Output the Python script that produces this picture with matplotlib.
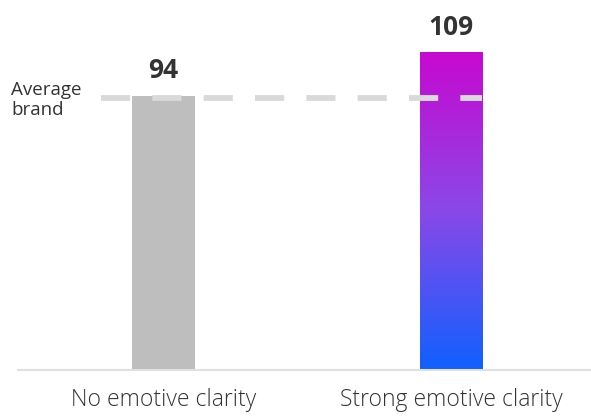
import numpy as np
import matplotlib
matplotlib.use("Agg")
import matplotlib.pyplot as plt
from matplotlib.colors import LinearSegmentedColormap

plt.rcParams['font.family'] = ['Open Sans', 'DejaVu Sans']

categories = ['No emotive clarity', 'Strong emotive clarity']
values = [94, 109]
avg_value = 93.3
avg_label = 'Average\nbrand'

# gray bar, then gradient (bottom -> top) for the second bar
gray = '#bebebe'
grad_colors = ['#1060ff', '#8a48e8', '#c808d0']

fig = plt.figure(figsize=(5.91, 4.17), dpi=100)
ax = fig.add_axes([18 / 591, 47 / 417, 573 / 591, 370 / 417])

x = np.arange(len(categories))
w = 0.219

ax.bar(x[0], values[0], width=w, color=gray, zorder=2)

# gradient bar via imshow clipped to the bar rectangle
cmap = LinearSegmentedColormap.from_list('grad', grad_colors)
bar = ax.bar(x[1], values[1], width=w, color='none', zorder=2)[0]
grad = np.linspace(0, 1, 256).reshape(-1, 1)
im = ax.imshow(grad, cmap=cmap, aspect='auto', origin='lower',
               extent=[x[1] - w / 2, x[1] + w / 2, 0, values[1]], zorder=2)
im.set_clip_path(bar)
ax.set_xlim(-0.506, 1.487)
ax.set_ylim(0, 126.8)

# average line
ax.plot([-0.217, x[1] + w / 2], [avg_value, avg_value], color='#d9d9d9',
        lw=4.2, dashes=(5, 3.8), solid_capstyle='butt', zorder=3)
fig.text(11 / 591, 1 - 100 / 417, avg_label, ha='left', va='center',
         fontsize=13.5, color='#333333', linespacing=1.15)

for xi, v in zip(x, values):
    ax.annotate(str(v), (xi, v), xytext=(0, 12.5), textcoords='offset points',
                ha='center', va='baseline', fontsize=19, fontweight='bold',
                color='#333333')

ax.set_xticks(x)
ax.set_xticklabels(categories, fontsize=16.5, color='#333333',
                   fontweight='light')
ax.tick_params(axis='x', length=0, pad=13)
ax.set_yticks([])
for s in ['top', 'right', 'left']:
    ax.spines[s].set_visible(False)
ax.spines['bottom'].set_color('#e0e0e0')
ax.spines['bottom'].set_linewidth(1.5)

fig.savefig('out.png', dpi=100)
